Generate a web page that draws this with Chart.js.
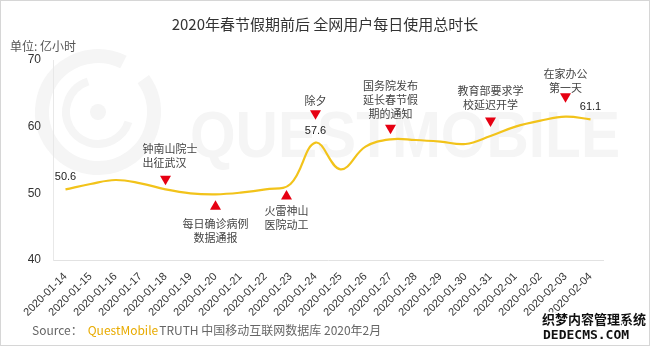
<!DOCTYPE html>
<html>
<head>
<meta charset="utf-8">
<script src="https://cdn.jsdelivr.net/npm/chart.js"></script>
<style>
  html, body { margin: 0; padding: 0; background: #fff; }
  #wrap { width: 650px; height: 346px; }
</style>
</head>
<body>
<div id="wrap"><canvas id="usageChart" width="650" height="346"></canvas></div>
<script>
// data
const dates = [
  "2020-01-14", "2020-01-15", "2020-01-16", "2020-01-17", "2020-01-18", "2020-01-19",
  "2020-01-20", "2020-01-21", "2020-01-22", "2020-01-23", "2020-01-24", "2020-01-25",
  "2020-01-26", "2020-01-27", "2020-01-28", "2020-01-29", "2020-01-30", "2020-01-31",
  "2020-02-01", "2020-02-02", "2020-02-03", "2020-02-04"
];
const hours = [
  50.6, 51.4, 52.0, 51.5, 50.6, 50.0, 49.85, 50.1, 50.6, 51.4, 57.6, 53.6,
  57.0, 58.1, 58.0, 57.75, 57.4, 58.6, 60.0, 60.9, 61.5, 61.1
];
const yTicks = [40, 50, 60, 70];
const labelledPoints = [0, 10, 21];

const eventIndex = [4, 6, 9, 10, 13, 17, 20];
const eventUp = [false, true, true, false, false, false, false];
const eventText = [
  ["钟南山院士", "出征武汉"],
  ["每日确诊病例", "数据通报"],
  ["火雷神山", "医院动工"],
  ["除夕"],
  ["国务院发布", "延长春节假", "期的通知"],
  ["教育部要求学", "校延迟开学"],
  ["在家办公", "第一天"]
];

const title = "2020年春节假期前后 全网用户每日使用总时长";
const unitText = "单位: 亿小时";

const cjk = "'Noto Sans CJK SC', 'Liberation Sans', sans-serif";
const latin = "'Liberation Sans', 'Noto Sans CJK SC', sans-serif";

// per-event placement: triangle offset from the line, text gap, dx, align
const eventLayout = [
  { dy: -9, gap: 18, dx: -23, align: "left" },
  { dy: 11, gap: 18, dx: 0, align: "center" },
  { dy: 11, gap: 16, dx: -4, align: "center" },
  { dy: -28, gap: 14, dx: 0, align: "center" },
  { dy: -10, gap: 16, dx: 0, align: "center" },
  { dy: -14, gap: 17, dx: 0, align: "center" },
  { dy: -19, gap: 10, dx: 0, align: "center" }
];

const decor = {
  id: "decor",
  beforeDraw(chart) {
    const c = chart.ctx;
    c.save();
    c.fillStyle = "#fff";
    c.fillRect(0, 0, chart.width, chart.height);
    // faint QuestMobile watermark
    c.strokeStyle = "#f5f5f5";
    c.fillStyle = "#f5f5f5";
    c.lineWidth = 14;
    c.beginPath();
    c.arc(98, 112, 56, -0.2 * Math.PI, 1.65 * Math.PI);
    c.stroke();
    c.lineWidth = 8;
    c.beginPath();
    c.arc(98, 112, 32, 0.1 * Math.PI, 1.4 * Math.PI);
    c.stroke();
    c.beginPath();
    c.arc(98, 112, 8, 0, 2 * Math.PI);
    c.fill();
    c.font = "bold 64px " + latin;
    c.textAlign = "left";
    c.textBaseline = "alphabetic";
    c.fillText("QUESTMOBILE", 190, 157, 430);
    c.restore();
  },
  afterDatasetsDraw(chart) {
    const c = chart.ctx;
    const xs = chart.scales.x, ys = chart.scales.y;
    c.save();
    // value labels
    c.fillStyle = "#222";
    c.font = "11px " + latin;
    c.textAlign = "center";
    c.textBaseline = "middle";
    labelledPoints.forEach((i) => {
      c.fillText(String(hours[i]), xs.getPixelForValue(i), ys.getPixelForValue(hours[i]) - 12);
    });
    // event markers
    eventIndex.forEach((idx, k) => {
      const lay = eventLayout[k];
      const x = xs.getPixelForValue(idx) + (k === 2 ? -4 : 0);
      const cy = ys.getPixelForValue(hours[idx]) + lay.dy;
      const up = eventUp[k];
      c.fillStyle = "#e60012";
      c.beginPath();
      if (up) {
        c.moveTo(x, cy - 5);
        c.lineTo(x + 5.5, cy + 4.5);
        c.lineTo(x - 5.5, cy + 4.5);
      } else {
        c.moveTo(x - 5.5, cy - 4.5);
        c.lineTo(x + 5.5, cy - 4.5);
        c.lineTo(x, cy + 5);
      }
      c.closePath();
      c.fill();
      c.fillStyle = "#444";
      c.font = "11px " + cjk;
      c.textAlign = lay.align;
      const lines = eventText[k];
      const tx = xs.getPixelForValue(idx) + lay.dx;
      lines.forEach((t, j) => {
        const ty = up
          ? cy + lay.gap + j * 14
          : cy - lay.gap - (lines.length - 1 - j) * 14;
        c.fillText(t, tx, ty);
      });
    });
    c.restore();
  },
  afterDraw(chart) {
    const c = chart.ctx;
    c.save();
    c.textBaseline = "middle";
    c.fillStyle = "#333";
    c.font = "15px " + cjk;
    c.textAlign = "center";
    c.fillText(title, 325, 24);
    c.fillStyle = "#555";
    c.font = "12px " + cjk;
    c.textAlign = "left";
    c.fillText(unitText, 10, 46);
    // source line
    let x = 32;
    c.font = "12px " + cjk;
    c.fillStyle = "#666";
    c.fillText("Source：", x, 330);
    x += c.measureText("Source：").width + 5;
    c.fillStyle = "#e8ab00";
    c.fillText("QuestMobile", x, 330);
    x += c.measureText("QuestMobile").width + 1;
    c.fillStyle = "#666";
    c.fillText("TRUTH 中国移动互联网数据库 2020年2月", x, 330);
    // site stamp at bottom right
    c.font = "bold 13px " + cjk;
    c.lineWidth = 3;
    c.strokeStyle = "#fff";
    c.fillStyle = "#111";
    c.textAlign = "left";
    c.strokeText("织梦内容管理系统", 542, 319);
    c.fillText("织梦内容管理系统", 542, 319);
    c.font = "bold 13px 'DejaVu Sans Mono', monospace";
    c.strokeText("DEDECMS.COM", 543, 336);
    c.fillText("DEDECMS.COM", 543, 336);
    // frame
    c.strokeStyle = "#d6d6d6";
    c.lineWidth = 1;
    c.strokeRect(0.5, 0.5, chart.width - 1, chart.height - 1);
    c.restore();
  }
};

new Chart(document.getElementById("usageChart"), {
  type: "line",
  data: {
    labels: dates,
    datasets: [{
      data: hours,
      borderColor: "#f2c31a",
      borderWidth: 2.2,
      pointRadius: 0,
      tension: 0.4,
      fill: false
    }]
  },
  options: {
    responsive: false,
    animation: false,
    devicePixelRatio: 1,
    layout: { padding: { top: 60, right: 47, left: 0, bottom: 0 } },
    plugins: { legend: { display: false }, tooltip: { enabled: false } },
    scales: {
      x: {
        offset: true,
        grid: { display: false },
        border: { color: "#e2e2e2" },
        ticks: {
          autoSkip: false,
          minRotation: 45,
          maxRotation: 45,
          color: "#333",
          padding: 2,
          font: { size: 11, family: latin }
        },
        afterFit(s) { s.height = 86; }
      },
      y: {
        min: 40,
        max: 70,
        grid: { display: false, drawTicks: false },
        border: { color: "#e8e8e8" },
        afterBuildTicks(s) { s.ticks = yTicks.map((v) => ({ value: v })); },
        ticks: { color: "#333", padding: 12, font: { size: 12, family: latin } },
        afterFit(s) { s.width = 53; }
      }
    }
  },
  plugins: [decor]
});
</script>
</body>
</html>
